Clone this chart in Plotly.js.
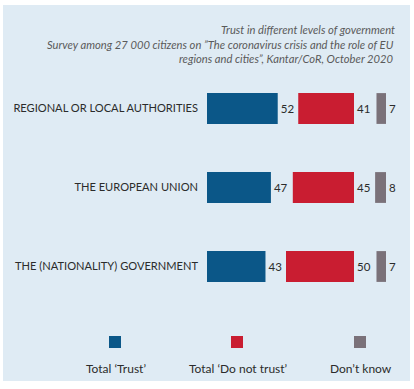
<!DOCTYPE html>
<html>
<head>
<meta charset="utf-8">
<script src="https://cdn.plot.ly/plotly-3.0.1.min.js"></script>
<style>
html,body{margin:0;padding:0;background:#fff;}
#chart{width:414px;height:389px;}
</style>
</head>
<body>
<div id="chart"></div>
<script>
// ---- data ----
const categories = ["REGIONAL OR LOCAL AUTHORITIES", "THE EUROPEAN UNION", "THE (NATIONALITY) GOVERNMENT"];
const trust = [52, 47, 43];
const doNotTrust = [41, 45, 50];
const dontKnow = [7, 8, 7];
const seriesNames = ["Total \u2018Trust\u2019", "Total \u2018Do not trust\u2019", "Don\u2019t know"];
const titleLines = [
  "Trust in different levels of government",
  "Survey among 27 000 citizens on \u201dThe coronavirus crisis and the role of EU",
  "regions and cities\u201d, Kantar/CoR, October 2020"
];

// ---- style / layout constants ----
const colors = ["#0b5788", "#c91d31", "#7a7179"];
const W = 414, H = 389;
const L = 207, R = 4, T = 69, B = 83;
const plotW = W - L - R, plotH = H - T - B;
const pxPerUnit = 1.36;
const xMax = plotW / pxPerUnit;
const redEnd = (354 - L) / pxPerUnit;   // right edge of the red column
const grayEnd = (386 - L) / pxPerUnit;  // right edge of the grey column
const px = v => (v - L) / plotW;
const py = v => (H - B - v) / plotH;
const txtColor = "#2b2b2b";
const labelFont = {family: "Lato, 'Open Sans', sans-serif", size: 11.5, color: txtColor};
const titleFont = {family: "Lato, 'Open Sans', sans-serif", size: 11.2, style: "italic", color: "#5a5a5a"};
const titleRight = 395;
const titleMid = [30, 44.2, 58.2];

const common = {
  type: "bar", orientation: "h", y: categories, width: 0.39,
  textposition: "outside", cliponaxis: false, constraintext: "none",
  textfont: labelFont, hoverinfo: "skip", showlegend: false
};

const traces = [
  Object.assign({}, common, {
    x: trust, base: trust.map(() => 0), name: seriesNames[0],
    text: trust.map(String), marker: {color: colors[0]}
  }),
  Object.assign({}, common, {
    x: doNotTrust, base: doNotTrust.map(v => redEnd - v), name: seriesNames[1],
    text: doNotTrust.map(String), marker: {color: colors[1]}
  }),
  Object.assign({}, common, {
    x: dontKnow, base: dontKnow.map(v => grayEnd - v), name: seriesNames[2],
    text: dontKnow.map(String), marker: {color: colors[2]}
  })
];

// background panel, legend squares and labels
const legendCx = [115, 237, 360];
const shapes = [{
  type: "rect", xref: "paper", yref: "paper", layer: "below",
  x0: px(3), x1: px(410), y0: py(381), y1: py(5),
  fillcolor: "#dfebf4", line: {width: 0}
}];
const annotations = [];
legendCx.forEach((cx, i) => {
  shapes.push({
    type: "rect", xref: "paper", yref: "paper",
    x0: px(cx - 6), x1: px(cx + 6), y0: py(348), y1: py(336),
    fillcolor: colors[i], line: {width: 0}
  });
  annotations.push({
    xref: "paper", yref: "paper", x: px(cx + 1), y: py(368),
    xanchor: "center", yanchor: "middle", showarrow: false,
    text: seriesNames[i],
    font: {family: "Lato, 'Open Sans', sans-serif", size: 12, color: txtColor}
  });
});
// subtitle lines (2nd and 3rd line of the heading)
for (let i = 1; i < titleLines.length; i++) {
  annotations.push({
    xref: "paper", yref: "paper", x: px(titleRight), y: py(titleMid[i]),
    xanchor: "right", yanchor: "middle", showarrow: false,
    text: titleLines[i], font: titleFont, borderpad: 0
  });
}

const layout = {
  width: W, height: H,
  margin: {l: L, r: R, t: T, b: B, pad: 0},
  paper_bgcolor: "#ffffff",
  plot_bgcolor: "rgba(0,0,0,0)",
  barmode: "overlay",
  title: {
    text: titleLines[0],
    xref: "container", yref: "container",
    x: titleRight / W, xanchor: "right",
    y: 1 - titleMid[0] / H, yanchor: "middle",
    pad: {t: 0, b: 0, l: 0, r: 0},
    font: titleFont
  },
  xaxis: {
    range: [0, xMax], visible: false, fixedrange: true
  },
  yaxis: {
    type: "category", autorange: "reversed",
    showgrid: false, zeroline: false, showline: false, ticks: "",
    ticklabelstandoff: 8,
    tickfont: {family: "Lato, 'Open Sans', sans-serif", size: 11.1, color: txtColor},
    fixedrange: true
  },
  shapes: shapes,
  annotations: annotations
};

Plotly.newPlot("chart", traces, layout, {displayModeBar: false, staticPlot: true});
</script>
</body>
</html>
